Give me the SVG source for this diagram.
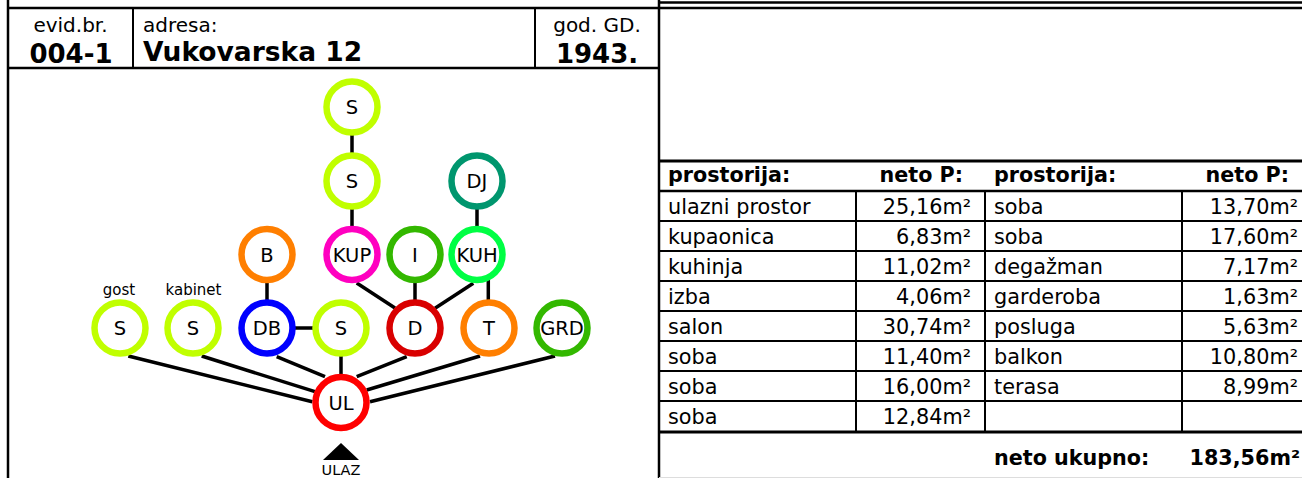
<svg xmlns="http://www.w3.org/2000/svg" width="1302" height="478" viewBox="0 0 1302 478">
<style>
text{font-family:"DejaVu Sans","Liberation Sans",sans-serif;fill:#000}
.h{font-size:20px}
.hb{font-size:26px;font-weight:bold}
.t{font-size:20.8px}
.tb{font-size:20.7px;font-weight:bold}
.n{font-size:19.5px;text-anchor:middle}
.sm{font-size:15px;text-anchor:middle}
.frame{stroke:#000;fill:none}
.cell{stroke:#000;stroke-width:2;fill:none}
.e{stroke:#000;stroke-width:3.5;stroke-linecap:butt;fill:none}
circle{fill:#fff;stroke-width:6.5}
.end{text-anchor:end}
.mid{text-anchor:middle}
</style>
<rect width="1302" height="478" fill="#fff"/>
<g id="frame">
<line class="frame" stroke-width="2.5" x1="8" y1="0" x2="8" y2="478"/>
<line class="frame" stroke-width="2.5" x1="8" y1="8" x2="660" y2="8"/>
<line class="frame" stroke-width="2.5" x1="8" y1="68" x2="659" y2="68"/>
<line class="frame" stroke-width="2" x1="133" y1="8" x2="133" y2="68"/>
<line class="frame" stroke-width="2" x1="535" y1="8" x2="535" y2="68"/>
<line class="frame" stroke-width="2.5" x1="659" y1="0" x2="659" y2="478"/>
<line class="frame" stroke-width="2.5" x1="659" y1="2.5" x2="1302" y2="2.5"/>
<line class="frame" stroke-width="2.5" x1="659" y1="8" x2="1302" y2="8"/>
</g>
<g id="header">
<text class="h mid" x="70.5" y="32">evid.br.</text>
<text class="hb mid" x="71" y="63">004-1</text>
<text class="h" x="143" y="32">adresa:</text>
<text class="hb" x="143" y="60.5" style="font-size:26.5px">Vukovarska 12</text>
<text class="h mid" x="597" y="32">god. GD.</text>
<text class="hb mid" x="597" y="63">1943.</text>
</g>
<g id="table">
<line class="frame" stroke-width="3" x1="659" y1="161" x2="1302" y2="161"/>
<line class="frame" stroke-width="2.5" x1="659" y1="191" x2="1302" y2="191"/>
<line class="cell" x1="659" y1="221" x2="1302" y2="221"/>
<line class="cell" x1="659" y1="251" x2="1302" y2="251"/>
<line class="cell" x1="659" y1="281" x2="1302" y2="281"/>
<line class="cell" x1="659" y1="311" x2="1302" y2="311"/>
<line class="cell" x1="659" y1="341" x2="1302" y2="341"/>
<line class="cell" x1="659" y1="371" x2="1302" y2="371"/>
<line class="cell" x1="659" y1="401" x2="1302" y2="401"/>
<line class="frame" stroke-width="3" x1="659" y1="432" x2="1302" y2="432"/>
<line x1="659" y1="477.5" x2="1302" y2="477.5" stroke="#ddd" stroke-width="1"/>
<line class="cell" x1="856" y1="191" x2="856" y2="432"/>
<line class="cell" x1="985" y1="191" x2="985" y2="432"/>
<line class="cell" x1="1182" y1="191" x2="1182" y2="432"/>
<text class="tb" x="668" y="182">prostorija:</text>
<text class="tb end" x="963" y="182">neto P:</text>
<text class="tb" x="994" y="182">prostorija:</text>
<text class="tb end" x="1289" y="182">neto P:</text>
<text class="t" x="668" y="214">ulazni prostor</text>
<text class="t" x="668" y="244">kupaonica</text>
<text class="t" x="668" y="274">kuhinja</text>
<text class="t" x="668" y="304">izba</text>
<text class="t" x="668" y="334">salon</text>
<text class="t" x="668" y="364">soba</text>
<text class="t" x="668" y="394">soba</text>
<text class="t" x="668" y="424">soba</text>
<text class="t end" x="971" y="214">25,16m²</text>
<text class="t end" x="971" y="244">6,83m²</text>
<text class="t end" x="971" y="274">11,02m²</text>
<text class="t end" x="971" y="304">4,06m²</text>
<text class="t end" x="971" y="334">30,74m²</text>
<text class="t end" x="971" y="364">11,40m²</text>
<text class="t end" x="971" y="394">16,00m²</text>
<text class="t end" x="971" y="424">12,84m²</text>
<text class="t" x="994" y="214">soba</text>
<text class="t" x="994" y="244">soba</text>
<text class="t" x="994" y="274">degažman</text>
<text class="t" x="994" y="304">garderoba</text>
<text class="t" x="994" y="334">posluga</text>
<text class="t" x="994" y="364">balkon</text>
<text class="t" x="994" y="394">terasa</text>
<text class="t end" x="1298" y="214">13,70m²</text>
<text class="t end" x="1298" y="244">17,60m²</text>
<text class="t end" x="1298" y="274">7,17m²</text>
<text class="t end" x="1298" y="304">1,63m²</text>
<text class="t end" x="1298" y="334">5,63m²</text>
<text class="t end" x="1298" y="364">10,80m²</text>
<text class="t end" x="1298" y="394">8,99m²</text>
<text class="tb" x="994" y="465">neto ukupno:</text>
<text class="tb end" x="1300" y="465">183,56m²</text>
</g>
<g id="connectors">
<line class="e" x1="352" y1="130" x2="352" y2="158"/>
<line class="e" x1="352" y1="204" x2="352" y2="231"/>
<line class="e" x1="477" y1="204" x2="477" y2="231"/>
<line class="e" x1="267" y1="278" x2="267" y2="304"/>
<line class="e" x1="290" y1="328" x2="318" y2="328"/>
<line class="e" x1="356.7" y1="283" x2="395" y2="308"/>
<line class="e" x1="415" y1="278" x2="415" y2="304"/>
<line class="e" x1="473.3" y1="283.3" x2="435" y2="308.3"/>
<line class="e" x1="488.3" y1="278" x2="488.3" y2="304"/>
<line class="e" x1="128.3" y1="356" x2="312.3" y2="401.7"/>
<line class="e" x1="201.7" y1="356" x2="315" y2="391.7"/>
<line class="e" x1="276.7" y1="356.7" x2="325" y2="376.7"/>
<line class="e" x1="341" y1="352" x2="341" y2="378"/>
<line class="e" x1="406.7" y1="356.7" x2="356.7" y2="376.7"/>
<line class="e" x1="480" y1="356" x2="366.7" y2="390"/>
<line class="e" x1="555" y1="356" x2="370" y2="401.7"/>
</g>
<g id="n-S1"><circle cx="352" cy="107" r="25.5" stroke="#c0ff00"/><text class="n" x="352" y="114">S</text></g>
<g id="n-S2"><circle cx="352" cy="181" r="25.5" stroke="#c0ff00"/><text class="n" x="352" y="188">S</text></g>
<g id="n-DJ"><circle cx="477" cy="181" r="25.5" stroke="#00966e"/><text class="n" x="477" y="188">DJ</text></g>
<g id="n-B"><circle cx="267" cy="254.5" r="25.5" stroke="#ff7f00"/><text class="n" x="267" y="261.5">B</text></g>
<g id="n-KUP"><circle cx="352" cy="254.5" r="25.5" stroke="#ff00c0"/><text class="n" x="352" y="261.5">KUP</text></g>
<g id="n-I"><circle cx="415" cy="254.5" r="25.5" stroke="#33b800"/><text class="n" x="415" y="261.5">I</text></g>
<g id="n-KUH"><circle cx="477" cy="254.5" r="25.5" stroke="#00ff44"/><text class="n" x="477" y="261.5">KUH</text></g>
<g id="n-Sg"><circle cx="120" cy="328" r="25.5" stroke="#c0ff00"/><text class="n" x="120" y="335">S</text><text class="sm" x="119" y="295">gost</text></g>
<g id="n-Sk"><circle cx="193" cy="328" r="25.5" stroke="#c0ff00"/><text class="n" x="193" y="335">S</text><text class="sm" x="193.5" y="295">kabinet</text></g>
<g id="n-DB"><circle cx="267" cy="328" r="25.5" stroke="#0000ff"/><text class="n" x="267" y="335">DB</text></g>
<g id="n-S3"><circle cx="341" cy="328" r="25.5" stroke="#c0ff00"/><text class="n" x="341" y="335">S</text></g>
<g id="n-D"><circle cx="415" cy="328" r="25.5" stroke="#d90000"/><text class="n" x="415" y="335">D</text></g>
<g id="n-T"><circle cx="489" cy="328" r="25.5" stroke="#ff7f00"/><text class="n" x="489" y="335">T</text></g>
<g id="n-GRD"><circle cx="562" cy="328" r="25.5" stroke="#33b800"/><text class="n" x="562" y="335">GRD</text></g>
<g id="n-UL"><circle cx="341" cy="402.5" r="25.5" stroke="#ff0000"/><text class="n" x="341" y="409.5">UL</text></g>
<g id="entrance"><polygon points="341,443 323,460 359,460" fill="#000"/><text class="sm" x="341" y="475" style="font-size:14.5px">ULAZ</text></g>
</svg>
